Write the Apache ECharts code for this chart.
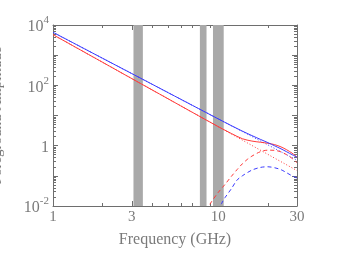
<!DOCTYPE html>
<html><head><meta charset="utf-8">
<script src="https://cdn.jsdelivr.net/npm/echarts@6/dist/echarts.min.js"></script>
<style>html,body{margin:0;padding:0;background:#fff}#c{width:349px;height:257px}</style>
</head><body><div id="c"></div>
<script>
// Frequencies (GHz) and amplitudes
const plFreq = [1, 2, 3, 5, 7, 10, 15, 20, 25, 30];
const blueSync = [5730, 783, 245, 56.5, 21.5, 7.74, 2.42, 1.06, 0.557, 0.330];
const redSync = [4780, 577, 167, 35.2, 12.6, 4.26, 1.24, 0.514, 0.260, 0.149];

const totFreq = [1, 2, 3, 5, 7, 10, 12, 14, 16, 18, 20, 22, 24, 26, 28, 30];
const blueTotal = [5730, 783, 245, 56.5, 21.5, 7.74, 4.62, 3.04, 2.16, 1.62, 1.26, 0.985, 0.785, 0.626, 0.503, 0.415];
const redTotal = [4780, 577, 167, 35.2, 12.6, 4.29, 2.54, 1.70, 1.42, 1.30, 1.20, 1.08, 0.91, 0.73, 0.565, 0.42];

const redDashFreq = [8.5, 9, 10, 11, 12, 13, 14, 15, 16, 18, 20, 22, 24, 26, 28, 30];
const redDash = [0.007, 0.0125, 0.028, 0.052, 0.095, 0.16, 0.25, 0.35, 0.45, 0.63, 0.71, 0.70, 0.62, 0.50, 0.38, 0.27];

const blueDashFreq = [10, 10.5, 11, 12, 13, 14, 16, 18, 20, 22, 24, 26, 28, 30];
const blueDash = [0.007, 0.0123, 0.019, 0.037, 0.072, 0.10, 0.155, 0.19, 0.20, 0.185, 0.16, 0.126, 0.10, 0.085];

const bandStart = [3.07, 7.75, 9.3];
const bandEnd = [3.5, 8.5, 10.8];

const xLabels = [1, 3, 10, 30];
const xMinor = [2, 4, 5, 6, 7, 8, 9, 20];
const yLabels = [0.01, 1, 100, 10000];
const yMajor = [0.01, 0.1, 1, 10, 100, 1000, 10000];
const yMinor = [];
[0.01, 0.1, 1, 10, 100, 1000].forEach(d => { for (let m = 2; m <= 9; m++) yMinor.push(+(d * m).toPrecision(3)); });

const RED = '#ff3a3a', BLUE = '#3a3aff', AX = '#6e6e6e', TXT = '#7a7a7a';
const FONT = 'Liberation Serif';

function pairs(xs, ys) { return xs.map((x, i) => [x, ys[i]]); }

function xAx(pos, ticks, len, labels, line) {
  return {
    type: 'log', logBase: 10, min: 1, max: 30, position: pos,
    axisLine: { show: line, onZero: false, lineStyle: { color: AX, width: 1 } },
    axisTick: { show: true, inside: true, length: len, customValues: ticks, lineStyle: { color: AX } },
    axisLabel: labels ? { show: true, customValues: xLabels, margin: 4, color: TXT, fontFamily: FONT, fontSize: 15 } : { show: false },
    splitLine: { show: false }, minorTick: { show: false },
    name: labels ? 'Frequency (GHz)' : '',
    nameLocation: 'middle', nameGap: 26,
    nameTextStyle: { color: TXT, fontFamily: FONT, fontSize: 16 }
  };
}
function yAx(pos, ticks, len, labels, line) {
  return {
    type: 'log', logBase: 10, min: 0.01, max: 10000, position: pos,
    axisLine: { show: line, onZero: false, lineStyle: { color: AX, width: 1 } },
    axisTick: { show: true, inside: true, length: len, customValues: ticks, lineStyle: { color: AX } },
    axisLabel: labels ? {
      show: true, customValues: yLabels, margin: 4, color: TXT, fontFamily: FONT,
      formatter: v => { const e = Math.round(Math.log10(v)); return e === 0 ? '{b|1}' : '{b|10}{s|' + (e < 0 ? '-' : '') + Math.abs(e) + '}'; },
      rich: {
        b: { fontSize: 16, fontFamily: FONT, color: TXT, verticalAlign: 'bottom', lineHeight: 20 },
        s: { fontSize: 11, fontFamily: FONT, color: TXT, verticalAlign: 'top', lineHeight: 20 }
      }
    } : { show: false },
    splitLine: { show: false }, minorTick: { show: false },
    name: labels ? 'Foreground Amplitude' : '',
    nameLocation: 'middle', nameGap: 48, nameRotate: 90,
    nameTextStyle: { color: TXT, fontFamily: FONT, fontSize: 15 }
  };
}

const chart = echarts.init(document.getElementById('c'), null, { renderer: 'canvas' });
chart.setOption({
  animation: false,
  backgroundColor: '#fff',
  grid: { left: 53, right: 52, top: 25, bottom: 51, containLabel: false, outerBoundsMode: 'none' },
  xAxis: [xAx('bottom', xLabels, 5, true, true), xAx('bottom', xMinor, 3, false, false),
          xAx('top', xLabels, 5, false, true), xAx('top', xMinor, 3, false, false)],
  yAxis: [yAx('left', yMajor, 5, true, true), yAx('left', yMinor, 3, false, false),
          yAx('right', yMajor, 5, false, true), yAx('right', yMinor, 3, false, false)],
  series: [
    { type: 'line', data: [], silent: true,
      markArea: { silent: true, itemStyle: { color: '#a9a9a9' },
        data: bandStart.map((s, i) => [{ xAxis: s }, { xAxis: bandEnd[i] }]) } },
    { type: 'line', data: pairs(plFreq, redSync), showSymbol: false, lineStyle: { color: RED, width: 1, type: [1, 2] } },
    { type: 'line', data: pairs(plFreq, blueSync), showSymbol: false, lineStyle: { color: BLUE, width: 1, type: [1, 2] } },
    { type: 'line', data: pairs(redDashFreq, redDash), showSymbol: false, smooth: 0.3, lineStyle: { color: RED, width: 1, type: [4, 3] } },
    { type: 'line', data: pairs(blueDashFreq, blueDash), showSymbol: false, smooth: 0.3, lineStyle: { color: BLUE, width: 1, type: [4, 3] } },
    { type: 'line', data: pairs(totFreq, redTotal), showSymbol: false, smooth: 0.3, lineStyle: { color: RED, width: 1 } },
    { type: 'line', data: pairs(totFreq, blueTotal), showSymbol: false, smooth: 0.3, lineStyle: { color: BLUE, width: 1 } }
  ]
});
</script></body></html>
